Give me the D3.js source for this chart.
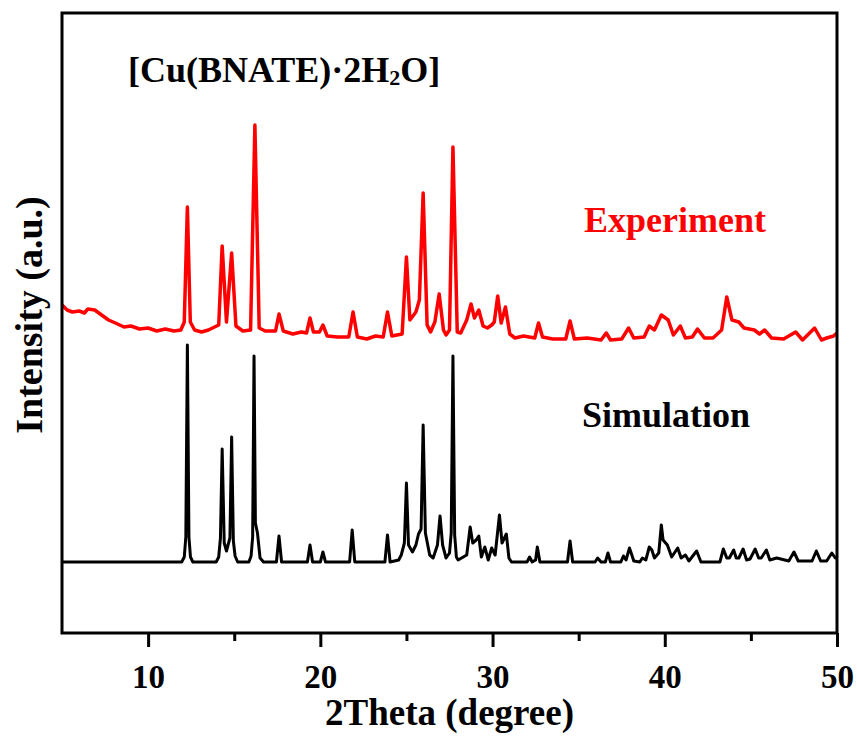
<!DOCTYPE html>
<html>
<head>
<meta charset="utf-8">
<script src="https://cdn.jsdelivr.net/npm/d3@7"></script>
<style>
  body { margin: 0; background: #fff; }
  text { font-family: "Liberation Serif", "Times New Roman", serif; font-weight: bold; }
</style>
</head>
<body>
<div id="chart"></div>
<script>
// x ticks
var xTicks = [10, 20, 30, 40, 50];
var xMinorTicks = [15, 25, 35, 45];

// simulated pattern [2theta, intensity (a.u.)]
var simPattern = [
    [5.0, 71], [11.95, 71], [12.1, 76], [12.19, 96], [12.28, 288], [12.37, 96], [12.46, 76], [12.6, 71],
    [13.95, 71], [14.1, 76], [14.2, 95], [14.3, 184], [14.42, 90], [14.55, 82],
    [14.75, 95], [14.85, 196], [14.95, 92], [15.05, 77], [15.2, 71],
    [15.85, 71], [15.98, 77], [16.07, 96], [16.15, 277], [16.23, 110], [16.35, 100], [16.5, 75], [16.7, 71],
    [17.45, 71], [17.6, 97], [17.75, 71], [19.25, 71], [19.4, 88], [19.55, 71],
    [20.0, 71], [20.15, 81], [20.3, 71], [21.7, 71], [21.85, 103], [22.0, 71],
    [23.75, 71], [23.9, 98], [24.05, 71], [24.55, 73], [24.7, 78], [24.88, 90],
    [25.0, 150], [25.12, 88], [25.35, 81], [25.55, 88], [25.7, 99], [25.85, 104],
    [25.97, 208], [26.1, 100], [26.35, 78], [26.55, 75], [26.8, 88], [26.95, 117],
    [27.1, 88], [27.3, 75], [27.5, 80], [27.6, 100], [27.7, 277], [27.8, 98], [27.9, 76], [28.0, 73],
    [28.5, 78], [28.7, 106], [28.85, 90], [29.05, 93], [29.2, 97], [29.35, 76],
    [29.55, 86], [29.75, 73], [29.95, 85], [30.15, 78], [30.4, 118], [30.55, 90],
    [30.8, 99], [30.95, 75], [31.1, 71], [32.0, 71], [32.15, 76], [32.3, 71],
    [32.5, 73], [32.6, 86], [32.75, 71], [34.35, 71], [34.5, 92], [34.65, 71],
    [35.95, 71], [36.1, 75], [36.3, 71], [36.55, 71], [36.7, 80], [36.85, 71],
    [37.45, 71], [37.6, 77], [37.75, 73], [37.95, 85], [38.05, 80], [38.2, 72],
    [38.55, 71], [38.7, 75], [38.9, 73], [39.1, 86], [39.25, 83], [39.4, 75],
    [39.65, 80], [39.8, 108], [39.9, 93], [40.15, 88], [40.4, 76], [40.75, 85],
    [40.95, 75], [41.2, 78], [41.4, 72], [41.85, 82], [42.1, 71],
    [43.2, 71], [43.4, 84], [43.6, 75], [43.75, 75], [44.0, 83], [44.15, 75],
    [44.3, 75], [44.55, 84], [44.75, 73], [44.95, 74], [45.25, 84], [45.45, 75],
    [45.6, 75], [45.9, 83], [46.1, 73], [46.5, 75], [47.2, 72], [47.5, 81],
    [47.75, 72], [48.55, 72], [48.8, 82], [49.05, 72], [49.4, 72], [49.7, 80],
    [49.9, 75], [50.0, 75]
];

// measured pattern [2theta, intensity (a.u.)]
var exptPattern = [
    [5.0, 328], [5.3, 323], [5.6, 321], [6.0, 322], [6.3, 320], [6.5, 324], [6.9, 323],
    [7.3, 318], [7.7, 313], [8.1, 310], [8.6, 306], [9.0, 307], [9.5, 304], [10.0, 305],
    [10.5, 302], [11.0, 304], [11.5, 302], [11.9, 303], [12.1, 311], [12.28, 426],
    [12.45, 311], [12.7, 303], [13.1, 301], [13.5, 303], [14.1, 308], [14.3, 387],
    [14.55, 311], [14.85, 380], [15.1, 307], [15.5, 302], [15.95, 303], [16.2, 508],
    [16.45, 305], [16.8, 302], [17.4, 302], [17.6, 319], [17.85, 302], [18.4, 299],
    [18.9, 301], [19.2, 300], [19.4, 315], [19.6, 301], [19.95, 301], [20.15, 308],
    [20.4, 297], [21.0, 296], [21.65, 296], [21.9, 321], [22.15, 296], [22.7, 294],
    [23.2, 297], [23.65, 296], [23.9, 321], [24.15, 297], [24.75, 299], [25.0, 376],
    [25.2, 313], [25.55, 321], [25.75, 333], [25.97, 440], [26.2, 308], [26.4, 301],
    [26.65, 311], [26.9, 339], [27.15, 303], [27.3, 298], [27.5, 303], [27.7, 486],
    [27.95, 301], [28.15, 300], [28.5, 313], [28.75, 329], [28.95, 315], [29.2, 323],
    [29.45, 307], [29.7, 305], [29.95, 308], [30.1, 311], [30.3, 337], [30.5, 310],
    [30.75, 326], [31.0, 299], [31.3, 295], [31.8, 297], [32.45, 295], [32.67, 310],
    [32.9, 296], [33.5, 294], [34.25, 294], [34.5, 312], [34.75, 294], [35.5, 295],
    [36.3, 293], [36.6, 300], [36.85, 293], [37.5, 294], [37.9, 305], [38.2, 295],
    [38.8, 296], [39.1, 307], [39.4, 303], [39.8, 318], [40.2, 313], [40.5, 298],
    [40.9, 307], [41.2, 295], [41.6, 296], [41.9, 304], [42.3, 295], [42.8, 295],
    [43.3, 303], [43.6, 336], [43.9, 313], [44.3, 311], [44.6, 305], [45.2, 303],
    [45.5, 299], [45.8, 303], [46.2, 295], [46.9, 294], [47.6, 301], [48.0, 293],
    [48.7, 305], [49.1, 293], [49.4, 295], [49.8, 297], [50.0, 300]
];

var width = 857, height = 747;
var margin = {left: 62, top: 13, right: 20, bottom: 114};
var plotW = width - margin.left - margin.right;
var plotH = height - margin.top - margin.bottom;

var svg = d3.select("#chart").append("svg")
    .attr("width", width)
    .attr("height", height);

var xScale = d3.scaleLinear().domain([5, 50]).range([0, plotW]);
var yScale = d3.scaleLinear().domain([0, 620]).range([plotH, 0]);

var g = svg.append("g")
    .attr("transform", "translate(" + margin.left + "," + margin.top + ")");

g.append("clipPath").attr("id", "clip")
    .append("rect").attr("width", plotW).attr("height", plotH);

var line = d3.line()
    .x(function (d) { return xScale(d[0]); })
    .y(function (d) { return yScale(d[1]); });

// curves
g.append("path")
    .datum(simPattern)
    .attr("clip-path", "url(#clip)")
    .attr("fill", "none")
    .attr("stroke", "#000")
    .attr("stroke-width", 3)
    .attr("stroke-linejoin", "round")
    .attr("d", line);

g.append("path")
    .datum(exptPattern)
    .attr("clip-path", "url(#clip)")
    .attr("fill", "none")
    .attr("stroke", "#ff0000")
    .attr("stroke-width", 3.5)
    .attr("stroke-linejoin", "round")
    .attr("d", line);

// frame
g.append("rect")
    .attr("width", plotW).attr("height", plotH)
    .attr("fill", "none")
    .attr("stroke", "#000")
    .attr("stroke-width", 3);

// x axis
var xAxis = g.append("g")
    .attr("transform", "translate(0," + plotH + ")")
    .call(d3.axisBottom(xScale).tickValues(xTicks).tickSize(14).tickPadding(18));
xAxis.select(".domain").remove();
xAxis.selectAll(".tick line").attr("stroke-width", 3);
xAxis.selectAll(".tick text")
    .attr("font-size", 33)
    .attr("fill", "#000")
    .style("font-family", "'Liberation Serif', 'Times New Roman', serif")
    .style("font-weight", "bold");

var xMinor = g.append("g")
    .attr("transform", "translate(0," + plotH + ")")
    .call(d3.axisBottom(xScale).tickValues(xMinorTicks).tickSize(8).tickFormat(""));
xMinor.select(".domain").remove();
xMinor.selectAll(".tick line").attr("stroke-width", 3);

// labels
svg.append("text")
    .attr("x", margin.left + plotW / 2)
    .attr("y", 725)
    .attr("text-anchor", "middle")
    .attr("font-size", 37)
    .text("2Theta (degree)");

svg.append("text")
    .attr("transform", "translate(42,315) rotate(-90)")
    .attr("text-anchor", "middle")
    .attr("font-size", 38)
    .text("Intensity (a.u.)");

var title = svg.append("text")
    .attr("x", 128)
    .attr("y", 82)
    .attr("font-size", 36);
title.append("tspan").text("[Cu(BNATE)\u00b72H");
title.append("tspan").attr("font-size", 22).attr("dy", 3).text("2");
title.append("tspan").attr("dy", -3).text("O]");

svg.append("text")
    .attr("x", 584)
    .attr("y", 232)
    .attr("font-size", 36)
    .attr("fill", "#ff0000")
    .text("Experiment");

svg.append("text")
    .attr("x", 582)
    .attr("y", 427)
    .attr("font-size", 36)
    .attr("fill", "#000")
    .text("Simulation");
</script>
</body>
</html>
